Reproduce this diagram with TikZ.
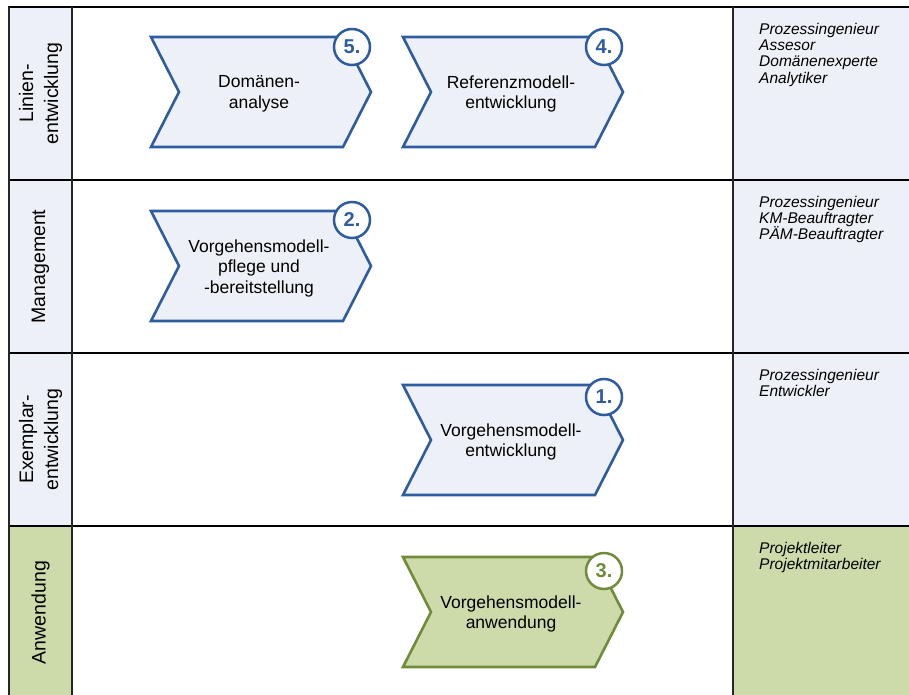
\documentclass[tikz,border=0pt]{standalone}
\usepackage{fontspec}
\setmainfont{Liberation Sans}
\definecolor{bluestroke}{RGB}{46,92,160}
\definecolor{bluefill}{RGB}{237,240,246}
\definecolor{greenstroke}{RGB}{112,140,58}
\definecolor{greenfill}{RGB}{205,219,170}
\tikzset{
  gridline/.style={draw=black,line width=2pt},
  vline/.style={draw=black!85,line width=1.6pt},
  chevblue/.style={draw=bluestroke,fill=bluefill,line width=2.6pt,line join=miter},
  chevgreen/.style={draw=greenstroke,fill=greenfill,line width=2.6pt,line join=miter},
  chevtext/.style={align=center,inner sep=0pt,font=\fontsize{17.5}{20.5}\selectfont},
  badgeblue/.style={circle,draw=bluestroke,fill=white,line width=2.5pt,minimum size=36pt,inner sep=0pt,text=bluestroke,font=\fontsize{20}{22}\selectfont\bfseries},
  badgegreen/.style={circle,draw=greenstroke,fill=white,line width=2.5pt,minimum size=36pt,inner sep=0pt,text=greenstroke,font=\fontsize{20}{22}\selectfont\bfseries},
  lanelabel/.style={rotate=90,align=center,inner sep=0pt,font=\fontsize{19.5}{25}\selectfont},
  roletext/.style={anchor=north west,align=left,inner sep=0pt,font=\fontsize{15.5}{16.2}\selectfont\itshape}
}
\newcommand{\chevron}[7]{%
  \draw[chev#4] (#2,#3) -- ++(192,0) -- ++(28,55) -- ++(-28,55) -- ++(-192,0) -- ++(28,-55) -- cycle;
  \node[chevtext] (#1) at (#2+108,#3+57) {#5};
  \node[badge#4] (#1n) at (#2+201,#3+#7) {#6};
}
\begin{document}
\begin{tikzpicture}[x=1pt,y=-1pt]
\useasboundingbox (0,0) rectangle (909,695);
% column fills
\fill[bluefill] (9,7) rectangle (72,526);
\fill[greenfill] (9,526) rectangle (72,700);
\fill[bluefill] (733,7) rectangle (909,526);
\fill[greenfill] (733,526) rectangle (909,700);
% grid
\draw[gridline] (8,7) -- (909,7);
\draw[gridline] (8,180) -- (909,180);
\draw[gridline] (8,353) -- (909,353);
\draw[gridline] (8,526) -- (909,526);
\draw[vline] (9,7) -- (9,700);
\draw[vline] (72,7) -- (72,700);
\draw[vline] (733,7) -- (733,700);
% lane labels
\node[lanelabel] (l1) at (40.5,93.5) {Linien-\\entwicklung};
\node[lanelabel] (l2) at (40.5,266.5) {Management};
\node[lanelabel] (l3) at (40.5,439.5) {Exemplar-\\entwicklung};
\node[lanelabel] (l4) at (40.5,612.5) {Anwendung};
% chevrons
\chevron{c5}{151}{37}{blue}{Domänen-\\analyse}{5.}{10}
\chevron{c4}{403}{37}{blue}{Referenzmodell-\\entwicklung}{4.}{10}
\chevron{c2}{151}{211}{blue}{Vorgehensmodell-\\pflege und\\-bereitstellung}{2.}{9}
\chevron{c1}{403}{385}{blue}{Vorgehensmodell-\\entwicklung}{1.}{12}
\chevron{c3}{403}{557}{green}{Vorgehensmodell-\\anwendung}{3.}{14}
% roles
\node[roletext] (r1) at (759,23) {Prozessingenieur\\Assesor\\Domänenexperte\\Analytiker};
\node[roletext] (r2) at (759,196) {Prozessingenieur\\KM-Beauftragter\\PÄM-Beauftragter};
\node[roletext] (r3) at (759,369) {Prozessingenieur\\Entwickler};
\node[roletext] (r4) at (759,542) {Projektleiter\\Projektmitarbeiter};
\end{tikzpicture}
\end{document}
